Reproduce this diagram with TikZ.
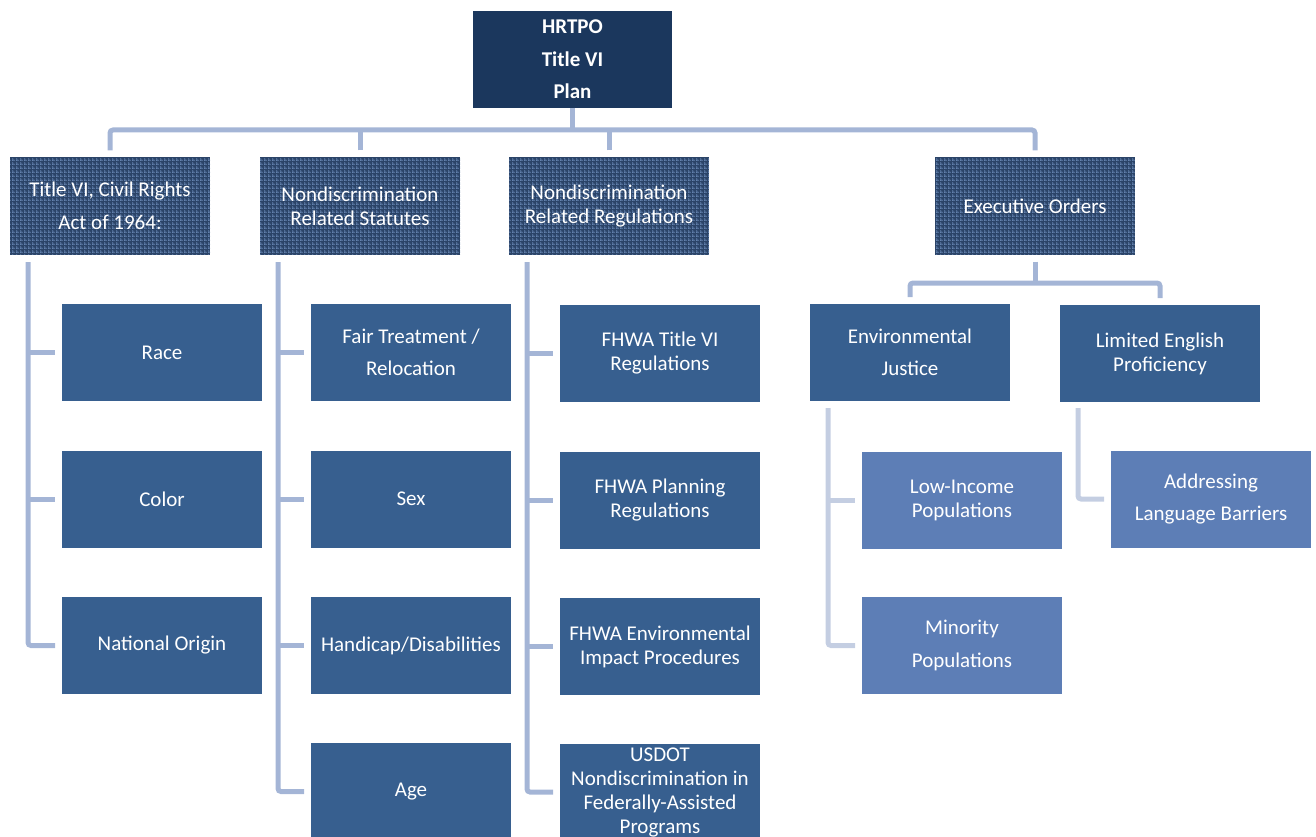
\documentclass[tikz,border=0pt]{standalone}
\usepackage{fontspec}
\setmainfont{Carlito}
\usetikzlibrary{patterns}
\pgfdeclarepatternformonly{sqdots}{\pgfqpoint{0pt}{0pt}}{\pgfqpoint{4pt}{4pt}}{\pgfqpoint{4pt}{4pt}}{%
  \pgfpathrectangle{\pgfqpoint{0pt}{0pt}}{\pgfqpoint{2pt}{2pt}}%
  \pgfusepath{fill}%
  \pgfpathrectangle{\pgfqpoint{2.5pt}{0.5pt}}{\pgfqpoint{1pt}{1pt}}%
  \pgfpathrectangle{\pgfqpoint{0.5pt}{2.5pt}}{\pgfqpoint{1pt}{1pt}}%
  \pgfusepath{fill}%
}
\definecolor{topc}{HTML}{1B375D}
\definecolor{patbase}{HTML}{2B4468}
\definecolor{patdot}{HTML}{6583B0}
\definecolor{midc}{HTML}{375F8F}
\definecolor{lowc}{HTML}{5D7EB6}
\definecolor{connc}{HTML}{A4B5D6}
\definecolor{connl}{HTML}{C4CEE2}
\tikzset{
  base/.style={inner sep=0pt, outer sep=0pt, minimum width=200pt, minimum height=97pt, align=center, text=white},
  tight/.style={font=\fontsize{21}{24}\selectfont},
  loose/.style={font=\fontsize{21}{32.5}\selectfont},
  topbox/.style={base, fill=topc, font=\fontsize{21}{32.5}\selectfont\bfseries},
  patbox/.style={base, preaction={fill=patbase}, pattern=sqdots, pattern color=patdot},
  midbox/.style={base, fill=midc},
  lowbox/.style={base, fill=lowc},
  conn/.style={draw=connc, line width=5pt},
  connlight/.style={draw=connl, line width=5pt},
}
\begin{document}
\begin{tikzpicture}[x=1pt,y=-1pt]
\useasboundingbox (0,0) rectangle (1316,837);
\clip (0,0) rectangle (1316,837);
% top
\node[topbox, minimum width=199pt] (top) at (572.5,59.5) {HRTPO\\Title VI\\Plan};
% level 1
\node[patbox, loose] (A) at (110,206) {Title VI, Civil Rights\\Act of 1964:};
\node[patbox, tight] (B) at (360,206) {Nondiscrimination\\Related Statutes};
\node[patbox, tight] (C) at (609,206) {Nondiscrimination\\Related Regulations};
\node[patbox, tight] (D) at (1035,206) {Executive Orders};
% column A
\node[midbox, tight] (A1) at (162,352.5) {Race};
\node[midbox, tight] (A2) at (162,499) {Color};
\node[midbox, tight] (A3) at (162,645.5) {National Origin};
% column B
\node[midbox, loose] (B1) at (411,352.5) {Fair Treatment /\\Relocation};
\node[midbox, tight] (B2) at (411,499) {Sex};
\node[midbox, tight] (B3) at (411,645.5) {Handicap/Disabilities};
\node[midbox, tight] (B4) at (411,791.5) {Age};
% column C
\node[midbox, tight] (C1) at (660,353.5) {FHWA Title VI\\Regulations};
\node[midbox, tight] (C2) at (660,500) {FHWA Planning\\Regulations};
\node[midbox, tight] (C3) at (660,646.5) {FHWA Environmental\\Impact Procedures};
\node[midbox, tight] (C4) at (660,792) {USDOT\\Nondiscrimination in\\Federally-Assisted\\Programs};
% executive orders
\node[midbox, loose] (E1) at (910,352.5) {Environmental\\Justice};
\node[midbox, tight] (E2) at (1160,353.5) {Limited English\\Proficiency};
\node[lowbox, tight] (F1) at (962,500) {Low-Income\\Populations};
\node[lowbox, loose] (F2) at (962,645.5) {Minority\\Populations};
\node[lowbox, loose] (G1) at (1211,499) {Addressing\\Language Barriers};
% connectors from top
\coordinate (bar) at (572,130);
\draw[conn] (top.south) -- (top.south |- bar);
\draw[conn, rounded corners=3pt] ([yshift=7pt]A.north) |- (bar) -| ([yshift=7pt]D.north);
\draw[conn] ([yshift=7pt]B.north) -- (B.north |- bar);
\draw[conn] ([yshift=7pt]C.north) -- (C.north |- bar);
% column A spine
\coordinate (sA) at (28,262);
\draw[conn, rounded corners=3pt] (sA) |- ([xshift=-7pt]A3.west);
\draw[conn] (sA |- A1.west) -- ([xshift=-7pt]A1.west);
\draw[conn] (sA |- A2.west) -- ([xshift=-7pt]A2.west);
% column B spine
\coordinate (sB) at (278,262);
\draw[conn, rounded corners=3pt] (sB) |- ([xshift=-7pt]B4.west);
\draw[conn] (sB |- B1.west) -- ([xshift=-7pt]B1.west);
\draw[conn] (sB |- B2.west) -- ([xshift=-7pt]B2.west);
\draw[conn] (sB |- B3.west) -- ([xshift=-7pt]B3.west);
% column C spine
\coordinate (sC) at (527,262);
\draw[conn, rounded corners=3pt] (sC) |- ([xshift=-7pt]C4.west);
\draw[conn] (sC |- C1.west) -- ([xshift=-7pt]C1.west);
\draw[conn] (sC |- C2.west) -- ([xshift=-7pt]C2.west);
\draw[conn] (sC |- C3.west) -- ([xshift=-7pt]C3.west);
% executive orders branch
\coordinate (ebar) at (1035,283);
\draw[conn] ([yshift=-7pt]D.south) -- (D.south |- ebar);
\draw[conn, rounded corners=3pt] ([yshift=7pt]E1.north) |- (ebar) -| ([yshift=7pt]E2.north);
% EJ spine
\coordinate (sE) at (828,408);
\draw[connlight, rounded corners=3pt] (sE) |- ([xshift=-7pt]F2.west);
\draw[connlight] (sE |- F1.west) -- ([xshift=-7pt]F1.west);
% LEP spine
\coordinate (sG) at (1078,408);
\draw[connlight, rounded corners=3pt] (sG) |- ([xshift=-7pt]G1.west);
\end{tikzpicture}
\end{document}
